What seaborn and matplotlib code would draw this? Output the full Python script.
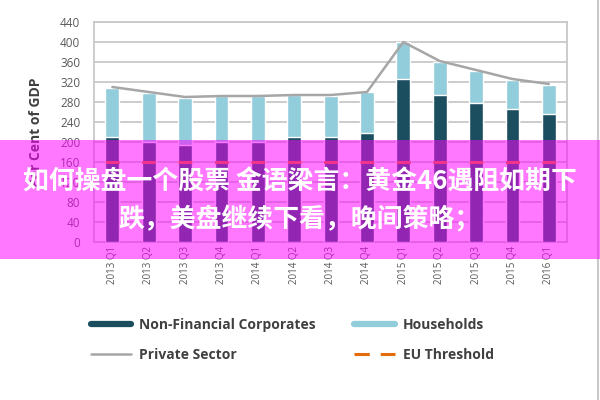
import numpy as np
import pandas as pd
import matplotlib
matplotlib.use("Agg")
import matplotlib.pyplot as plt
import seaborn as sns
from matplotlib.lines import Line2D
from matplotlib.patches import Rectangle

# === 数据 ===
quarters = ["2013 Q1", "2013 Q2", "2013 Q3", "2013 Q4", "2014 Q1", "2014 Q2", "2014 Q3",
            "2014 Q4", "2015 Q1", "2015 Q2", "2015 Q3", "2015 Q4", "2016 Q1"]
corporates = [210, 200, 195, 200, 200, 210, 210, 218, 326, 294, 278, 266, 256]
households = [98, 98, 93, 92, 92, 84, 82, 82, 74, 66, 64, 58, 58]
private_sector = [310, 300, 290, 292, 292, 294, 294, 300, 400, 362, 344, 326, 316]
eu_threshold = 160
y_ticks = list(range(0, 441, 40))
banner_lines = ["如何操盘一个股票 金语梁言：黄金46遇阻如期下", "跌，美盘继续下看，晚间策略；"]

df = pd.DataFrame({"quarter": quarters, "corp": corporates, "hh": households,
                   "private": private_sector})
df["total"] = df["corp"] + df["hh"]

sns.set_style("white")
plt.rcParams["font.family"] = ["Open Sans", "DejaVu Sans"]

c_corp = "#1b4f5f"
c_hh = "#92cddc"
c_line = "#a6a6a6"
c_thr = "#e46c0a"

fig = plt.figure(figsize=(6, 4), dpi=100)
ax = fig.add_axes([0.157, 0.395, 0.788, 0.55])

# 堆叠柱：先画总高度（住户），再画企业部分
sns.barplot(data=df, x="quarter", y="total", color=c_hh, width=0.38, ax=ax,
            saturation=1, zorder=2)
sns.barplot(data=df, x="quarter", y="corp", color=c_corp, width=0.38, ax=ax,
            saturation=1, zorder=3)
sns.lineplot(x=np.arange(len(quarters)), y=df["private"], color=c_line, lw=1.8,
             ax=ax, zorder=4)
# 虚线：每根柱子中心一段
thr_lw = 2.2
ax.axhline(eu_threshold, color=c_thr, lw=thr_lw, zorder=5,
           linestyle=(18.1 / thr_lw, (10 / thr_lw, 16.2 / thr_lw)))

ax.set_xlim(-0.5, len(quarters) - 0.5)
ax.set_ylim(0, 440)
ax.set_yticks(y_ticks)
ax.set_yticklabels([str(t) for t in y_ticks], fontsize=8.5, color="#595959")
ax.set_xticks(range(len(quarters)))
ax.set_xticklabels(quarters, rotation=90, fontsize=7, color="#595959")
ax.tick_params(axis="both", length=0, pad=3)
ax.tick_params(axis="y", pad=10)
ax.set_xlabel("")
ax.set_ylabel("Per Cent of GDP", fontsize=10, color="#404040", fontweight="bold",
              labelpad=12)
ax.yaxis.grid(True, color="#c8c8c8", lw=1.3, zorder=0)
ax.set_axisbelow(True)
for s in ax.spines.values():
    s.set_color("#c8c8c8")
    s.set_linewidth(1.3)

# === 图例 ===
handles = [
    Line2D([], [], color=c_corp, lw=4.5),
    Line2D([], [], color=c_line, lw=1.8),
    Line2D([], [], color=c_hh, lw=4.5),
    Line2D([], [], color=c_thr, lw=2.2, dashes=(5, 3.6)),
]
labels = ["Non-Financial Corporates", "Private Sector", "Households", "EU Threshold"]
leg = fig.legend(handles, labels, ncol=2, loc="upper left", bbox_to_anchor=(0.13, 0.236),
                 frameon=False, handlelength=2.95, handletextpad=0.55, columnspacing=2.75,
                 labelspacing=1.15, prop={"size": 10, "weight": "bold"})
for t in leg.get_texts():
    t.set_color("#404040")

# 右侧边框线
fig.add_artist(Line2D([0.996, 0.996], [0, 1], transform=fig.transFigure,
                      color="#c8c8c8", lw=1.5))

# === 横幅 ===
fig.add_artist(Rectangle((0, 1 - 259 / 400), 1, 119 / 400, transform=fig.transFigure,
                         color="#ff00ff", alpha=0.53, lw=0, zorder=10))
for i, line in enumerate(banner_lines):
    fig.text(0.5, 1 - (182 + 38 * i) / 400, line, ha="center", va="center",
             fontsize=18.6, color="white", fontweight="bold",
             family=["Noto Sans CJK SC", "DejaVu Sans"], zorder=11)

plt.savefig("out.png", dpi=100)
